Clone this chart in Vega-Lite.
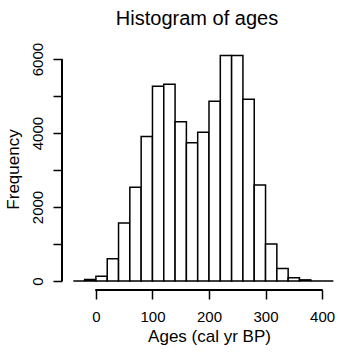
{
  "$schema": "https://vega.github.io/schema/vega-lite/v6.json",
  "autosize": {"type": "none"},
  "padding": {"left": 62, "top": 48, "right": 0, "bottom": 62},
  "width": 294,
  "height": 242,
  "background": "white",
  "title": {
    "text": "Histogram of ages",
    "font": "Liberation Sans",
    "fontSize": 20,
    "fontWeight": "normal",
    "color": "black",
    "anchor": "middle",
    "dx": -12,
    "offset": 13
  },
  "data": {
    "values": [
      {"bin_start": -40, "bin_end": -20, "count": 0},
      {"bin_start": -20, "bin_end": 0, "count": 40},
      {"bin_start": 0, "bin_end": 20, "count": 130},
      {"bin_start": 20, "bin_end": 40, "count": 600},
      {"bin_start": 40, "bin_end": 60, "count": 1570},
      {"bin_start": 60, "bin_end": 80, "count": 2535},
      {"bin_start": 80, "bin_end": 100, "count": 3906},
      {"bin_start": 100, "bin_end": 120, "count": 5268},
      {"bin_start": 120, "bin_end": 140, "count": 5322},
      {"bin_start": 140, "bin_end": 160, "count": 4303},
      {"bin_start": 160, "bin_end": 180, "count": 3735},
      {"bin_start": 180, "bin_end": 200, "count": 4023},
      {"bin_start": 200, "bin_end": 220, "count": 4862},
      {"bin_start": 220, "bin_end": 240, "count": 6098},
      {"bin_start": 240, "bin_end": 260, "count": 6098},
      {"bin_start": 260, "bin_end": 280, "count": 4916},
      {"bin_start": 280, "bin_end": 300, "count": 2598},
      {"bin_start": 300, "bin_end": 320, "count": 1001},
      {"bin_start": 320, "bin_end": 340, "count": 340},
      {"bin_start": 340, "bin_end": 360, "count": 88},
      {"bin_start": 360, "bin_end": 380, "count": 30},
      {"bin_start": 380, "bin_end": 400, "count": 0},
      {"bin_start": 400, "bin_end": 420, "count": 0}
    ]
  },
  "layer": [
    {
      "mark": {"type": "rect", "fill": "white", "stroke": "black", "strokeWidth": 1.5},
      "encoding": {
        "x": {
          "field": "bin_start",
          "type": "quantitative",
          "scale": {"domain": [-60, 460], "nice": false, "zero": false},
          "axis": {
            "values": [0, 100, 200, 300, 400],
            "title": "Ages (cal yr BP)",
            "titleFontSize": 17,
            "titlePadding": 4,
            "labelFontSize": 15,
            "labelPadding": 10,
            "tickSize": 9,
            "labelFlush": false
          }
        },
        "x2": {"field": "bin_end"},
        "y": {
          "field": "count",
          "type": "quantitative",
          "scale": {"domain": [-244, 6300], "nice": false, "zero": false},
          "axis": {
            "values": [0, 1000, 2000, 3000, 4000, 5000, 6000],
            "labelExpr": "datum.value % 2000 === 0 ? datum.label : ''",
            "format": "d",
            "title": "Frequency",
            "titleFontSize": 17,
            "titlePadding": 8,
            "labelFontSize": 15,
            "labelAngle": -90,
            "labelAlign": "center",
            "labelBaseline": "alphabetic",
            "labelPadding": 11,
            "tickSize": 9,
            "labelFlush": false
          }
        },
        "y2": {"datum": 0}
      }
    },
    {
      "mark": {"type": "rule", "color": "black", "strokeWidth": 1.5},
      "encoding": {
        "x": {"datum": 0},
        "x2": {"datum": 400},
        "y": {"datum": -244}
      }
    },
    {
      "mark": {"type": "rule", "color": "black", "strokeWidth": 1.5},
      "encoding": {
        "x": {"datum": -60},
        "y": {"datum": 0},
        "y2": {"datum": 6000}
      }
    }
  ],
  "config": {
    "view": {"stroke": null},
    "axis": {
      "domain": false,
      "grid": false,
      "tickColor": "black",
      "tickWidth": 1.5,
      "labelColor": "black",
      "titleColor": "black",
      "labelFont": "Liberation Sans",
      "titleFont": "Liberation Sans",
      "titleFontWeight": "normal"
    }
  }
}
